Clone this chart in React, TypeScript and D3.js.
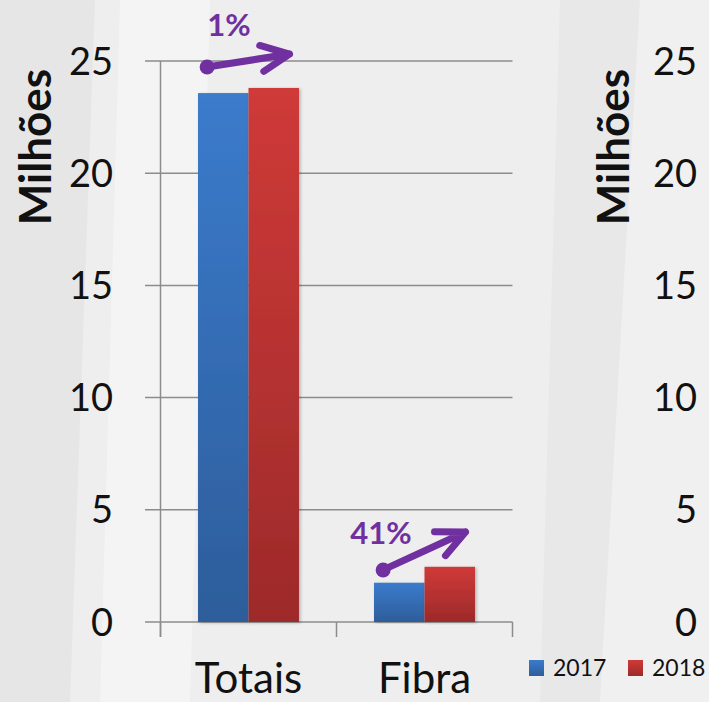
import * as d3 from 'd3';

const categories = ['Totais', 'Fibra'];
const years = ['2017', '2018'];
const values2017 = [23.57, 1.75];
const values2018 = [23.8, 2.46];
const growthLabels = ['1%', '41%'];
// arrow anchors, in data units (start of arrow, arrow tip, label baseline)
const arrowStart = [24.73, 2.32];
const arrowTip = [25.31, 4.01];
const labelBase = [26.1, 3.48];
const labelFrac = [0.389, 0.253];
const yTicks = [0, 5, 10, 15, 20, 25];

const W = 709;
const H = 702;
const FONT = 'Lato, "Open Sans", sans-serif';
const PURPLE = '#7030a0';
const COLORS: Record<string, [string, string]> = {
  '2017': ['#3b7bcc', '#2d5d9b'],
  '2018': ['#cf3a38', '#9d2a2a'],
};

export default function App() {
  const x = d3.scaleBand<string>().domain(categories).range([160.5, 512.5]);
  const xSub = d3.scaleBand<string>().domain(years).range([0, x.bandwidth()]).paddingOuter(0.743);
  const y = d3.scaleLinear().domain([0, 25]).range([622, 61]);
  const bw = x.bandwidth();

  const rows = categories.map((c, i) => ({ c, v: [values2017[i], values2018[i]] }));

  const arrowHead = (x0: number, y0: number, x1: number, y1: number) => {
    const back = Math.atan2(y0 - y1, x0 - x1);
    const len = 31;
    const a = (25 * Math.PI) / 180;
    return [back + a, back - a].map(t => `M${x1},${y1}L${x1 + len * Math.cos(t)},${y1 + len * Math.sin(t)}`).join('');
  };

  return (
    <svg width={W} height={H} style={{ display: 'block', position: 'absolute', left: 0, top: 0 }}>
      <defs>
        {years.map(yr => (
          <linearGradient key={yr} id={`g${yr}`} x1="0" y1="0" x2="0" y2="1">
            <stop offset="0" stopColor={COLORS[yr][0]} />
            <stop offset="1" stopColor={COLORS[yr][1]} />
          </linearGradient>
        ))}
        <filter id="sh" x="-20%" y="-5%" width="140%" height="110%">
          <feDropShadow dx="1.5" dy="1" stdDeviation="1.5" floodColor="#000" floodOpacity="0.25" />
        </filter>
      </defs>

      {/* background */}
      <rect width={W} height={H} fill="#eeeeee" />
      <polygon points="0,0 95,0 70,702 0,702" fill="#e3e3e3" opacity={0.8} />
      <polygon points="120,0 210,0 190,702 100,702" fill="#f6f6f6" opacity={0.7} />
      <polygon points="560,0 640,0 600,702 540,702" fill="#e5e5e5" opacity={0.6} />
      <polygon points="640,0 709,0 709,702 600,702" fill="#f1f1f1" opacity={0.6} />

      {/* gridlines */}
      {yTicks.map(t => (
        <line key={t} x1={145} x2={512.5} y1={y(t)} y2={y(t)} stroke="#8c8c8c" strokeWidth={1.5} />
      ))}
      <line x1={160.5} x2={160.5} y1={y(25)} y2={637} stroke="#8c8c8c" strokeWidth={1.5} />
      {[...categories.map(c => x(c) as number), 512.5].map((v, i) => (
        <line key={i} x1={v} x2={v} y1={y(0)} y2={637} stroke="#8c8c8c" strokeWidth={1.5} />
      ))}

      {/* bars */}
      {rows.map(r =>
        years.map((yr, j) => (
          <rect
            key={r.c + yr}
            x={(x(r.c) as number) + (xSub(yr) as number)}
            y={y(r.v[j])}
            width={xSub.bandwidth()}
            height={y(0) - y(r.v[j])}
            fill={`url(#g${yr})`}
            filter="url(#sh)"
          />
        )),
      )}

      {/* y tick labels */}
      {yTicks.map(t => (
        <text key={t} x={113} y={y(t)} dy="0.36em" textAnchor="end" fontFamily={FONT} fontSize={38} fill="#111">
          {t}
        </text>
      ))}
      <text transform={`translate(51,147) rotate(-90)`} textAnchor="middle" fontFamily={FONT} fontWeight="bold" fontSize={44} fill="#111">
        Milhões
      </text>

      {/* category labels */}
      {categories.map(c => (
        <text key={c} x={(x(c) as number) + bw / 2} y={693} textAnchor="middle" fontFamily={FONT} fontSize={42} fill="#111">
          {c}
        </text>
      ))}

      {/* growth arrows */}
      {categories.map((c, i) => {
        const x0 = (x(c) as number) + bw * 0.265;
        const x1 = (x(c) as number) + bw * 0.733;
        const y0 = y(arrowStart[i]);
        const y1 = y(arrowTip[i]);
        return (
          <g key={c}>
            <path
              d={`M${x0},${y0}L${x1},${y1}` + arrowHead(x0, y0, x1, y1)}
              fill="none"
              stroke={PURPLE}
              strokeWidth={7}
              strokeLinecap="round"
              strokeLinejoin="round"
            />
            <circle cx={x0} cy={y0} r={7.5} fill={PURPLE} />
            <text x={(x(c) as number) + bw * labelFrac[i]} y={y(labelBase[i])} textAnchor="middle" fontFamily={FONT} fontWeight="bold" fontSize={31} fill={PURPLE}>
              {growthLabels[i]}
            </text>
          </g>
        );
      })}

      {/* right (clipped) chart axis */}
      {yTicks.map(t => (
        <text key={'r' + t} x={697} y={y(t)} dy="0.36em" textAnchor="end" fontFamily={FONT} fontSize={38} fill="#111">
          {t}
        </text>
      ))}
      <text transform={`translate(629,147) rotate(-90)`} textAnchor="middle" fontFamily={FONT} fontWeight="bold" fontSize={44} fill="#111">
        Milhões
      </text>

      {/* legend */}
      {years.map((yr, i) => (
        <g key={yr} transform={`translate(${529 + i * 99},660)`}>
          <rect width={15} height={16} fill={`url(#g${yr})`} />
          <text x={24} y={16} fontFamily={FONT} fontSize={23} fill="#111">
            {yr}
          </text>
        </g>
      ))}
    </svg>
  );
}
